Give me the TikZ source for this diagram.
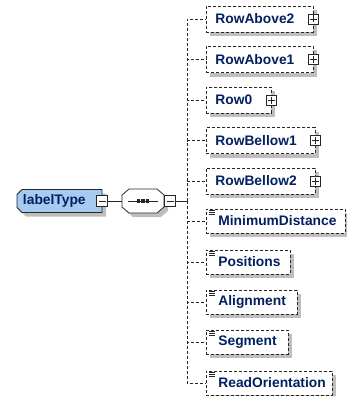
\documentclass[tikz,border=0pt]{standalone}
\usepackage{fontspec}
\setmainfont{Liberation Sans}
\definecolor{txtblue}{RGB}{0,32,96}
\definecolor{ltblue}{RGB}{166,202,240}
\definecolor{shadowgray}{RGB}{190,190,190}
\begin{document}
\begin{tikzpicture}[x=1pt,y=-1pt,
  every node/.style={font=\fontsize{13.8}{16}\selectfont\bfseries, text=txtblue},
  elem/.style={draw=black!85, dash pattern=on 3pt off 2pt, line width=0.8pt, fill=white,
    anchor=west, inner ysep=0pt, align=left},
  cplx/.style={elem, minimum height=26pt, inner xsep=9pt, text width=#1},
  smpl/.style={elem, minimum height=24pt, inner xsep=12pt, text width=#1,
    path picture={\draw[solid, line width=0.7pt, black!85]
      ([xshift=2.5pt,yshift=-1.8pt]path picture bounding box.north west) -- ++(6pt,0pt)
      ([xshift=2.5pt,yshift=-3.6pt]path picture bounding box.north west) -- ++(6pt,0pt)
      ([xshift=2.5pt,yshift=-5.4pt]path picture bounding box.north west) -- ++(6pt,0pt);}},
  pm/.style={draw=black!85, solid, line width=0.7pt, fill=white, minimum size=#1, inner sep=0pt},
  plusbox/.style={pm=10pt, path picture={\draw[line width=0.7pt]
      ([xshift=-3.5pt]path picture bounding box.center) -- ([xshift=3.5pt]path picture bounding box.center)
      ([yshift=-3.5pt]path picture bounding box.center) -- ([yshift=3.5pt]path picture bounding box.center);}},
  minusbox/.style={pm=11pt, path picture={\draw[line width=0.7pt]
      ([xshift=-3.5pt]path picture bounding box.center) -- ([xshift=3.5pt]path picture bounding box.center);}},
  conn/.style={draw=black!85, line width=0.8pt, dash pattern=on 3pt off 2pt},
  link/.style={draw=black!85, line width=0.8pt},
  sh/.style={fill=shadowgray}
]
\useasboundingbox (0,0) rectangle (346,396);

% shadows (offset 4px right and down)
\foreach \y/\h/\r in {19/13/313, 59.5/13/313, 100/13/271, 140.5/13/315, 181/13/315,
                      221/12/345, 262/12/290, 302/12/297, 342/12/288, 383/12/332}
  \path[sh] (210,\y-\h+4) rectangle (\r+4,\y+\h+4);
\path[sh] (21,198.5) -- (26,193.5) -- (106,193.5) -- (106,216.5) -- (26,216.5) -- (21,211.5) -- cycle;
\path[sh] (126,199) -- (133,193) -- (161,193) -- (168,199) -- (168,211) -- (161,217) -- (133,217) -- (126,211) -- cycle;

% root element and sequence outlines
\draw[link, fill=ltblue] (17,194.5) -- (22,189.5) -- (102,189.5) -- (102,212.5) -- (22,212.5) -- (17,207.5) -- cycle;
\draw[link, fill=white] (122,195) -- (129,189) -- (157,189) -- (164,195) -- (164,207) -- (157,213) -- (129,213) -- (122,207) -- cycle;

% root element
\node[minimum width=85pt, minimum height=23pt, inner xsep=6pt, text width=73pt, align=left] (lt) at (59.5,201) {labelType};
\node[minusbox] (ltm) at (lt.east) {};

% sequence compositor
\node[minimum width=42pt, minimum height=24pt, inner sep=0pt] (seq) at (143,201) {};
\node[minusbox, anchor=west] (seqm) at (seq.east) {};
\draw[link] ([xshift=-15pt]seq.center) -- ([xshift=15pt]seq.center);
\foreach \dx in {-4.5,0,4.5}
  \fill[black!85] ([xshift=\dx pt]seq.center) +(-1.6pt,-1.6pt) rectangle +(1.6pt,1.6pt);

% children
\node[cplx=89pt] (ra2) at (206,19) {RowAbove2};
\node[cplx=89pt] (ra1) at (206,59.5) {RowAbove1};
\node[cplx=47pt] (r0) at (206,100) {Row0};
\node[cplx=91pt] (rb1) at (206,140.5) {RowBellow1};
\node[cplx=91pt] (rb2) at (206,181) {RowBellow2};
\node[smpl=115pt] (md) at (206,221) {MinimumDistance};
\node[smpl=60pt] (pos) at (206,262) {Positions};
\node[smpl=67pt] (al) at (206,302) {Alignment};
\node[smpl=58pt] (seg) at (206,342) {Segment};
\node[smpl=102pt] (ro) at (206,383) {ReadOrientation};

\foreach \n in {ra2,ra1,r0,rb1,rb2}
  \node[plusbox] (\n p) at (\n.east) {};

\draw[link] (ltm.east) -- (seq.west);
\coordinate (bus) at (187,201);
\draw[link] (seqm.east) -- (bus);

\foreach \n in {ra2,ra1,r0,rb1,rb2,md,pos,al,seg,ro}
  \draw[conn] (bus) |- (\n.west);
\end{tikzpicture}
\end{document}
